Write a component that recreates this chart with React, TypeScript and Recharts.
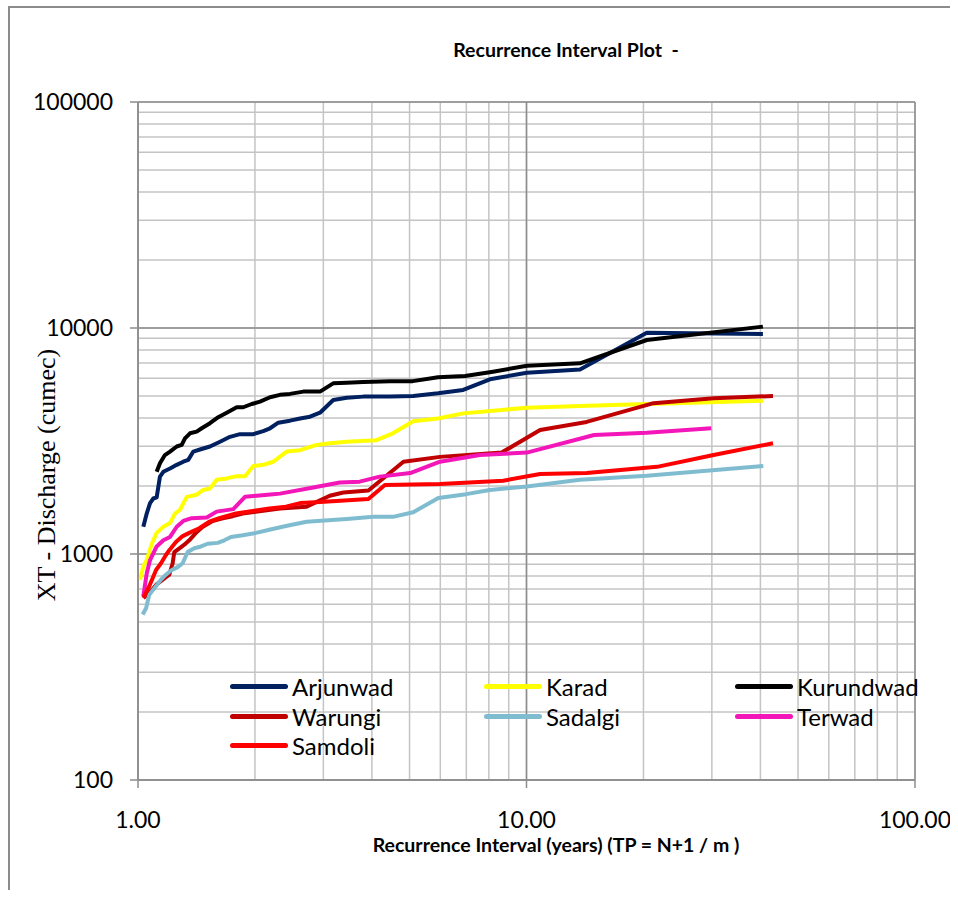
import { LineChart, Line, XAxis, YAxis, CartesianGrid, ReferenceLine } from 'recharts';

// Recurrence interval T (years) and discharge XT (cumec)
const arjunwadT = [1.032, 1.053, 1.074, 1.095, 1.117, 1.139, 1.162, 1.209, 1.258, 1.308, 1.347, 1.388, 1.444, 1.532, 1.626, 1.725, 1.83, 1.981, 2.101, 2.187, 2.297, 2.461, 2.613, 2.772, 2.941, 3.181, 3.445, 3.8, 4.453, 5.11, 5.92, 6.87, 8.05, 10.02, 13.73, 20.4, 40.6];
const arjunwadQ = [1320, 1510, 1680, 1760, 1780, 2200, 2310, 2390, 2480, 2560, 2610, 2840, 2900, 2990, 3140, 3300, 3390, 3390, 3500, 3600, 3810, 3890, 3980, 4050, 4220, 4800, 4910, 4970, 4970, 5000, 5140, 5320, 5930, 6340, 6560, 9530, 9400];

const karadT = [1.012, 1.032, 1.053, 1.085, 1.117, 1.162, 1.209, 1.245, 1.283, 1.335, 1.416, 1.472, 1.532, 1.594, 1.692, 1.795, 1.885, 1.981, 2.101, 2.229, 2.413, 2.613, 2.883, 3.116, 3.445, 4.11, 4.53, 5.11, 5.92, 6.87, 10.02, 13.73, 20.4, 40.6];
const karadQ = [770, 880, 940, 1110, 1240, 1320, 1370, 1510, 1570, 1790, 1830, 1920, 1950, 2130, 2160, 2210, 2210, 2450, 2480, 2560, 2840, 2880, 3040, 3090, 3140, 3190, 3420, 3870, 3980, 4190, 4440, 4520, 4610, 4770];

const kurundwadT = [1.117, 1.139, 1.173, 1.209, 1.258, 1.296, 1.321, 1.361, 1.416, 1.459, 1.532, 1.609, 1.692, 1.795, 1.866, 1.962, 2.061, 2.187, 2.32, 2.461, 2.664, 2.941, 3.18, 3.445, 3.8, 4.453, 5.1, 5.92, 6.95, 8.2, 10.03, 13.73, 20.4, 40.6];
const kurundwadQ = [2310, 2520, 2740, 2840, 2990, 3040, 3250, 3420, 3480, 3600, 3790, 4030, 4220, 4460, 4460, 4610, 4720, 4940, 5060, 5110, 5230, 5230, 5690, 5730, 5770, 5810, 5820, 6050, 6130, 6410, 6810, 6980, 8850, 10140];

const warungiT = [1.032, 1.069, 1.113, 1.169, 1.204, 1.228, 1.24, 1.278, 1.316, 1.355, 1.41, 1.468, 1.556, 1.652, 1.753, 1.86, 2.32, 2.717, 3.116, 3.378, 3.918, 4.822, 5.99, 8.63, 10.84, 14.28, 21.23, 30.3, 43.1];
const warungiQ = [640, 670, 730, 780, 810, 910, 1020, 1060, 1100, 1150, 1240, 1320, 1400, 1440, 1470, 1510, 1590, 1620, 1810, 1870, 1910, 2560, 2690, 2810, 3540, 3840, 4650, 4890, 5000];

const sadalgiT = [1.028, 1.049, 1.069, 1.102, 1.146, 1.18, 1.216, 1.265, 1.303, 1.342, 1.396, 1.453, 1.511, 1.604, 1.668, 1.735, 1.86, 2.013, 2.178, 2.403, 2.717, 3.445, 4.03, 4.53, 5.11, 5.93, 6.99, 8.05, 10.02, 13.73, 20.4, 40.7];
const sadalgiQ = [540, 575, 660, 705, 770, 810, 845, 875, 910, 1020, 1060, 1080, 1110, 1120, 1150, 1190, 1210, 1240, 1280, 1330, 1390, 1430, 1460, 1460, 1530, 1770, 1840, 1920, 1990, 2130, 2220, 2450];

const terwadT = [1.032, 1.053, 1.074, 1.117, 1.162, 1.209, 1.258, 1.308, 1.374, 1.503, 1.594, 1.759, 1.885, 2.02, 2.229, 2.32, 2.826, 3.307, 3.72, 4.19, 5.02, 5.99, 7.58, 10.02, 14.93, 20.4, 29.9];
const terwadQ = [650, 820, 940, 1080, 1150, 1190, 1320, 1400, 1440, 1450, 1540, 1580, 1790, 1810, 1840, 1850, 1970, 2070, 2090, 2200, 2280, 2560, 2740, 2810, 3360, 3440, 3600];

const samdoliT = [1.032, 1.069, 1.113, 1.146, 1.18, 1.204, 1.252, 1.303, 1.355, 1.438, 1.526, 1.619, 1.787, 1.974, 2.178, 2.403, 2.613, 2.941, 3.918, 4.32, 5.99, 8.71, 10.84, 14.28, 21.67, 30.3, 43.1];
const samdoliQ = [640, 720, 850, 910, 990, 1040, 1130, 1200, 1240, 1300, 1390, 1440, 1510, 1550, 1590, 1620, 1680, 1700, 1750, 2020, 2040, 2110, 2260, 2280, 2430, 2740, 3090];

// log grid: every 1..9 step in each decade, labels only on the powers of ten
const xTicks = [1, 2, 3, 4, 5, 6, 7, 8, 9, 10, 20, 30, 40, 50, 60, 70, 80, 90, 100];
const xMajor = [1, 10, 100];
const yTicks = [
  100, 200, 300, 400, 500, 600, 700, 800, 900,
  1000, 2000, 3000, 4000, 5000, 6000, 7000, 8000, 9000,
  10000, 20000, 30000, 40000, 50000, 60000, 70000, 80000, 90000, 100000,
];
const yMajor = [100, 1000, 10000, 100000];

const zip = (t: number[], q: number[]) => t.map((v, i) => ({ t: v, q: q[i] }));

const series = [
  { name: 'Arjunwad', color: '#002060', data: zip(arjunwadT, arjunwadQ) },
  { name: 'Karad', color: '#ffff00', data: zip(karadT, karadQ) },
  { name: 'Kurundwad', color: '#000000', data: zip(kurundwadT, kurundwadQ) },
  { name: 'Warungi', color: '#c00000', data: zip(warungiT, warungiQ) },
  { name: 'Sadalgi', color: '#80bcd0', data: zip(sadalgiT, sadalgiQ) },
  { name: 'Terwad', color: '#f316b8', data: zip(terwadT, terwadQ) },
  { name: 'Samdoli', color: '#ff0000', data: zip(samdoliT, samdoliQ) },
];

const TICK_FONT = 'Lato, "Liberation Sans", sans-serif';
const MAJOR = '#8c8c8c';
const MINOR = '#c4c4c4';

function YTick({ x, y, payload }: any) {
  if (!yMajor.includes(payload.value)) return null;
  return (
    <g>
      <line x1={x + 17} x2={x + 25} y1={y} y2={y} stroke={MAJOR} strokeWidth={1.5} />
      <text x={x} y={y} dy="0.36em" textAnchor="end" fontSize={23} fontFamily={TICK_FONT} fill="#000">
        {payload.value}
      </text>
    </g>
  );
}

function XTick({ x, y, payload }: any) {
  if (!xMajor.includes(payload.value)) return null;
  return (
    <g>
      <line x1={x} x2={x} y1={y - 32} y2={y - 24} stroke={MAJOR} strokeWidth={1.5} />
      <text x={x} y={y} dy="0.71em" textAnchor="middle" fontSize={23} fontFamily={TICK_FONT} fill="#000">
        {payload.value.toFixed(2)}
      </text>
    </g>
  );
}

// three-column legend laid over the lower part of the plot
function LegendBox() {
  return (
    <div style={{ position: 'absolute', left: 230, top: 672, display: 'grid', gridTemplateColumns: '254px 251px 200px' }}>
      {series.map((s) => (
        <div key={s.name} style={{ display: 'flex', alignItems: 'center', height: 29.5 }}>
          <span style={{ width: 58, height: 5, borderRadius: 3, background: s.color, marginRight: 4 }} />
          <span style={{ fontFamily: TICK_FONT, fontSize: 24, color: '#000', lineHeight: '29px' }}>{s.name}</span>
        </div>
      ))}
    </div>
  );
}

const boldText = { position: 'absolute' as const, fontFamily: TICK_FONT, fontWeight: 700, color: '#000', textAlign: 'center' as const, whiteSpace: 'nowrap' as const };

export default function App() {
  return (
    <div style={{ position: 'absolute', left: 0, top: 0, width: 950, height: 890, background: '#fff', overflow: 'hidden' }}>
      <div style={{ position: 'absolute', left: 8, top: 6, width: 942, height: 884, borderLeft: '2px solid #8c8c8c', borderTop: '2px solid #8c8c8c' }} />

      <div style={{ ...boldText, left: 366, width: 400, top: 38, fontSize: 19.5 }}>Recurrence Interval Plot&nbsp;&nbsp;-</div>
      <div style={{ ...boldText, left: 356, width: 400, top: 833, fontSize: 19.5 }}>Recurrence Interval (years) (TP = N+1 / m )</div>
      <div
        style={{
          position: 'absolute', left: 47, top: 475, transform: 'translate(-50%, -50%) rotate(-90deg)',
          fontFamily: '"Liberation Serif", "Times New Roman", serif', fontSize: 26, whiteSpace: 'nowrap', color: '#000',
        }}
      >
        XT - Discharge (cumec)
      </div>

      <div style={{ position: 'absolute', left: 0, top: 0 }}>
        <LineChart width={950} height={890} margin={{ top: 102, right: 35, bottom: 50, left: 10 }}>
          <CartesianGrid stroke={MINOR} strokeWidth={1.5} />
          <XAxis
            type="number"
            dataKey="t"
            scale="log"
            domain={[1, 100]}
            ticks={xTicks}
            allowDataOverflow
            height={60}
            tickSize={8}
            tickMargin={24}
            tickLine={false}
            axisLine={{ stroke: MAJOR, strokeWidth: 1.5 }}
            tick={<XTick />}
            interval={0}
          />
          <YAxis
            type="number"
            scale="log"
            domain={[100, 100000]}
            ticks={yTicks}
            allowDataOverflow
            width={128}
            tickSize={8}
            tickMargin={17}
            tickLine={false}
            axisLine={{ stroke: MAJOR, strokeWidth: 1.5 }}
            tick={<YTick />}
            interval={0}
          />
          {yMajor.map((v) => (
            <ReferenceLine key={'y' + v} y={v} stroke={MAJOR} strokeWidth={1.5} />
          ))}
          {xMajor.map((v) => (
            <ReferenceLine key={'x' + v} x={v} stroke={MAJOR} strokeWidth={1.5} />
          ))}
          {series.map((s) => (
            <Line
              key={s.name}
              data={s.data}
              dataKey="q"
              name={s.name}
              type="linear"
              stroke={s.color}
              strokeWidth={4}
              strokeLinejoin="round"
              dot={false}
              activeDot={false}
              isAnimationActive={false}
            />
          ))}
        </LineChart>
      </div>
      <LegendBox />
    </div>
  );
}
